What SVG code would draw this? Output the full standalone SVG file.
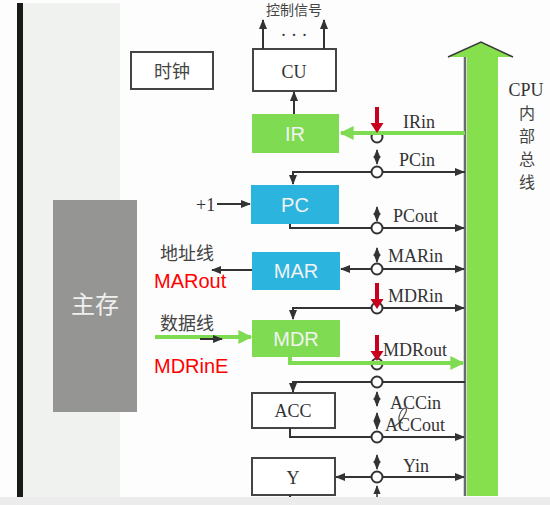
<svg xmlns="http://www.w3.org/2000/svg" width="550" height="505" viewBox="0 0 550 505">
<defs>
<style>
.ln{stroke:#333;stroke-width:2;fill:none}
.gl{stroke:#7fdc52;stroke-width:4;fill:none}
.bx{fill:#fff;stroke:#444;stroke-width:2}
.lbl{font-family:"Liberation Serif",serif;font-size:18px;fill:#333}
.wt{font-family:"Liberation Sans",sans-serif;font-size:20px;fill:#f2f2f2;text-anchor:middle}
.cj{font-family:"Noto Sans CJK SC",sans-serif;fill:#444}
.red{font-family:"Liberation Sans",sans-serif;font-size:20px;fill:#ff0000}
.cir{fill:#fff;stroke:#333;stroke-width:2}
.tick{stroke:#333;stroke-width:1.5;fill:none}
</style>
<marker id="ah" viewBox="0 0 10 10" refX="9" refY="5" markerWidth="5" markerHeight="5" orient="auto-start-reverse" markerUnits="strokeWidth"><path d="M0,1 L10,5 L0,9 z" fill="#333"/></marker>
<marker id="sah" viewBox="0 0 10 10" refX="9" refY="5" markerWidth="6" markerHeight="6" orient="auto-start-reverse" markerUnits="strokeWidth"><path d="M0,1 L10,5 L0,9 z" fill="#333"/></marker>
<marker id="gah" viewBox="0 0 10 10" refX="9" refY="5" markerWidth="3.5" markerHeight="3.5" orient="auto-start-reverse" markerUnits="strokeWidth"><path d="M0,0 L10,5 L0,10 z" fill="#7fdc52"/></marker>
</defs>
<rect x="0" y="0" width="550" height="505" fill="#fdfdfd"/>
<rect x="23" y="3" width="97" height="494" fill="#f0f2f0"/>
<rect x="17" y="3" width="6" height="494" fill="#1a1a1a"/>
<rect x="0" y="497" width="550" height="8" fill="#ececec"/>

<g id="bus">
<line x1="465" y1="57" x2="465" y2="496" stroke="#6a6a6a" stroke-width="2.5"/>
<polygon points="467,57 448,57 481,42 513,57 498,57 498,496 467,496" fill="#86e04e"/>
<polyline points="448,57 481,42 513,57" fill="none" stroke="#3a3a3a" stroke-width="1.5"/>
<text x="526" y="96" text-anchor="middle" class="lbl" font-size="18">CPU</text>
<text x="527" y="119" text-anchor="middle" class="cj" font-size="16">内</text>
<text x="527" y="142" text-anchor="middle" class="cj" font-size="16">部</text>
<text x="527" y="165" text-anchor="middle" class="cj" font-size="16">总</text>
<text x="527" y="188" text-anchor="middle" class="cj" font-size="16">线</text>
</g>

<g id="main-memory">
<rect x="53" y="200" width="84" height="212" fill="#959693"/>
<text x="95" y="313" text-anchor="middle" font-family="Noto Sans CJK SC,sans-serif" font-size="24" fill="#f0f0f0">主存</text>
</g>

<g id="clock">
<rect x="131" y="52" width="82" height="37" class="bx"/>
<text x="172" y="78" text-anchor="middle" class="cj" font-size="18">时钟</text>
</g>

<g id="cu">
<rect x="253" y="49" width="83" height="42" class="bx"/>
<text x="294" y="78" text-anchor="middle" class="lbl" font-size="20">CU</text>
<text x="294" y="41" text-anchor="middle" class="lbl" font-size="16">· · ·</text>
<text x="294" y="15" text-anchor="middle" class="cj" font-size="14">控制信号</text>
</g>

<g id="ir">
<rect x="252" y="114" width="87" height="39" fill="#7fdc52"/>
<text x="295" y="141" class="wt">IR</text>
</g>
<g id="pc">
<rect x="251" y="185" width="88" height="39" fill="#2bb5de"/>
<text x="295" y="212" class="wt">PC</text>
</g>
<g id="mar">
<rect x="252" y="252" width="88" height="38" fill="#2bb5de"/>
<text x="296" y="278" class="wt">MAR</text>
</g>
<g id="mdr">
<rect x="252" y="320" width="88" height="37" fill="#7fdc52"/>
<text x="296" y="346" class="wt">MDR</text>
</g>
<g id="acc">
<rect x="252" y="393" width="83" height="35" class="bx"/>
<text x="293" y="417" text-anchor="middle" class="lbl">ACC</text>
</g>
<g id="y">
<rect x="252" y="458" width="83" height="37" class="bx"/>
<text x="293" y="484" text-anchor="middle" class="lbl" font-size="20">Y</text>
</g>

<g id="connectors">
<line x1="263" y1="49" x2="263" y2="20" class="ln" marker-end="url(#ah)"/>
<line x1="324" y1="49" x2="324" y2="20" class="ln" marker-end="url(#ah)"/>
<line x1="294" y1="114" x2="294" y2="92" class="ln" marker-end="url(#ah)"/>
<polyline points="465,172 293,172 293,184" class="ln" marker-end="url(#ah)"/>
<line x1="380" y1="172" x2="464" y2="172" class="ln" marker-end="url(#ah)"/>
<line x1="217" y1="204" x2="250" y2="204" class="ln" marker-end="url(#ah)"/>
<polyline points="290,224 290,228 464,228" class="ln" marker-end="url(#ah)"/>
<line x1="377" y1="269" x2="341" y2="269" class="ln" marker-end="url(#ah)"/>
<line x1="377" y1="269" x2="464" y2="269" class="ln" marker-end="url(#ah)"/>
<line x1="252" y1="270" x2="212" y2="270" class="ln" marker-end="url(#ah)"/>
<polyline points="377,308 293,308 293,319" class="ln" marker-end="url(#ah)"/>
<line x1="377" y1="308" x2="464" y2="308" class="ln" marker-end="url(#ah)"/>
<line x1="155" y1="337" x2="251" y2="337" class="gl" marker-end="url(#gah)"/>
<line x1="200" y1="339" x2="222" y2="339" class="ln" stroke-width="1.5" marker-end="url(#ah)"/>
<line x1="465" y1="133" x2="341" y2="133" class="gl" marker-end="url(#gah)"/>
<polyline points="290,357 290,363 463,363" class="gl" marker-end="url(#gah)"/>
<polyline points="465,382 293,382 293,392" class="ln" marker-end="url(#ah)"/>
<polyline points="290,428 290,437 464,437" class="ln" marker-end="url(#ah)"/>
<line x1="377" y1="477" x2="336" y2="477" class="ln" marker-end="url(#ah)"/>
<line x1="377" y1="477" x2="464" y2="477" class="ln" marker-end="url(#ah)"/>
<line x1="290" y1="495" x2="290" y2="497" class="ln"/>
<line x1="377" y1="150" x2="377" y2="164" class="tick" marker-start="url(#sah)" marker-end="url(#sah)"/>
<line x1="377" y1="207" x2="377" y2="221" class="tick" marker-start="url(#sah)" marker-end="url(#sah)"/>
<line x1="377" y1="248" x2="377" y2="262" class="tick" marker-start="url(#sah)" marker-end="url(#sah)"/>
<line x1="377" y1="392" x2="377" y2="406" class="tick" marker-start="url(#sah)" marker-end="url(#sah)"/>
<line x1="377" y1="413" x2="377" y2="429" class="tick" marker-start="url(#sah)" marker-end="url(#sah)"/>
<line x1="377" y1="455" x2="377" y2="469" class="tick" marker-start="url(#sah)" marker-end="url(#sah)"/>
<line x1="377" y1="486" x2="377" y2="497" class="tick" marker-start="url(#sah)"/>
<circle cx="377" cy="137" r="5.5" class="cir"/>
<circle cx="377" cy="172" r="5.5" class="cir"/>
<circle cx="377" cy="228" r="5.5" class="cir"/>
<circle cx="377" cy="269" r="5.5" class="cir"/>
<circle cx="377" cy="308" r="5.5" class="cir"/>
<circle cx="377" cy="364" r="5.5" class="cir"/>
<circle cx="377" cy="382" r="5.5" class="cir"/>
<circle cx="377" cy="437" r="5.5" class="cir"/>
<circle cx="377" cy="477" r="5.5" class="cir"/>
<line x1="341" y1="133" x2="465" y2="133" class="gl"/>
<line x1="290" y1="363" x2="455" y2="363" class="gl"/>
<path d="M375,107 h4 v16 h4.5 l-6.5,10 l-6.5,-10 h4.5 z" fill="#c8001e"/>
<path d="M375,283 h4 v16 h4.5 l-6.5,10 l-6.5,-10 h4.5 z" fill="#c8001e"/>
<path d="M375,335 h4 v16 h4.5 l-6.5,10 l-6.5,-10 h4.5 z" fill="#c8001e"/>
<path d="M395,426 q6,-4 10,-12 q3,-6 0,-6 q-4,1 -6,9 q-1,6 4,6" fill="none" stroke="#555" stroke-width="1.2"/>
</g>

<g id="labels">
<text x="196" y="211" class="lbl">+1</text>
<text x="403" y="128" class="lbl">IRin</text>
<text x="399" y="166" class="lbl">PCin</text>
<text x="393" y="222" class="lbl">PCout</text>
<text x="388" y="262" class="lbl">MARin</text>
<text x="388" y="302" class="lbl">MDRin</text>
<text x="383" y="356" class="lbl">MDRout</text>
<text x="390" y="409" class="lbl">ACCin</text>
<text x="385" y="431" class="lbl">ACCout</text>
<text x="403" y="472" class="lbl">Yin</text>
<text x="160" y="260" class="cj" font-size="18">地址线</text>
<text x="160" y="330" class="cj" font-size="18">数据线</text>
<text x="154" y="288" class="red">MARout</text>
<text x="154" y="373" class="red">MDRinE</text>
</g>
</svg>
